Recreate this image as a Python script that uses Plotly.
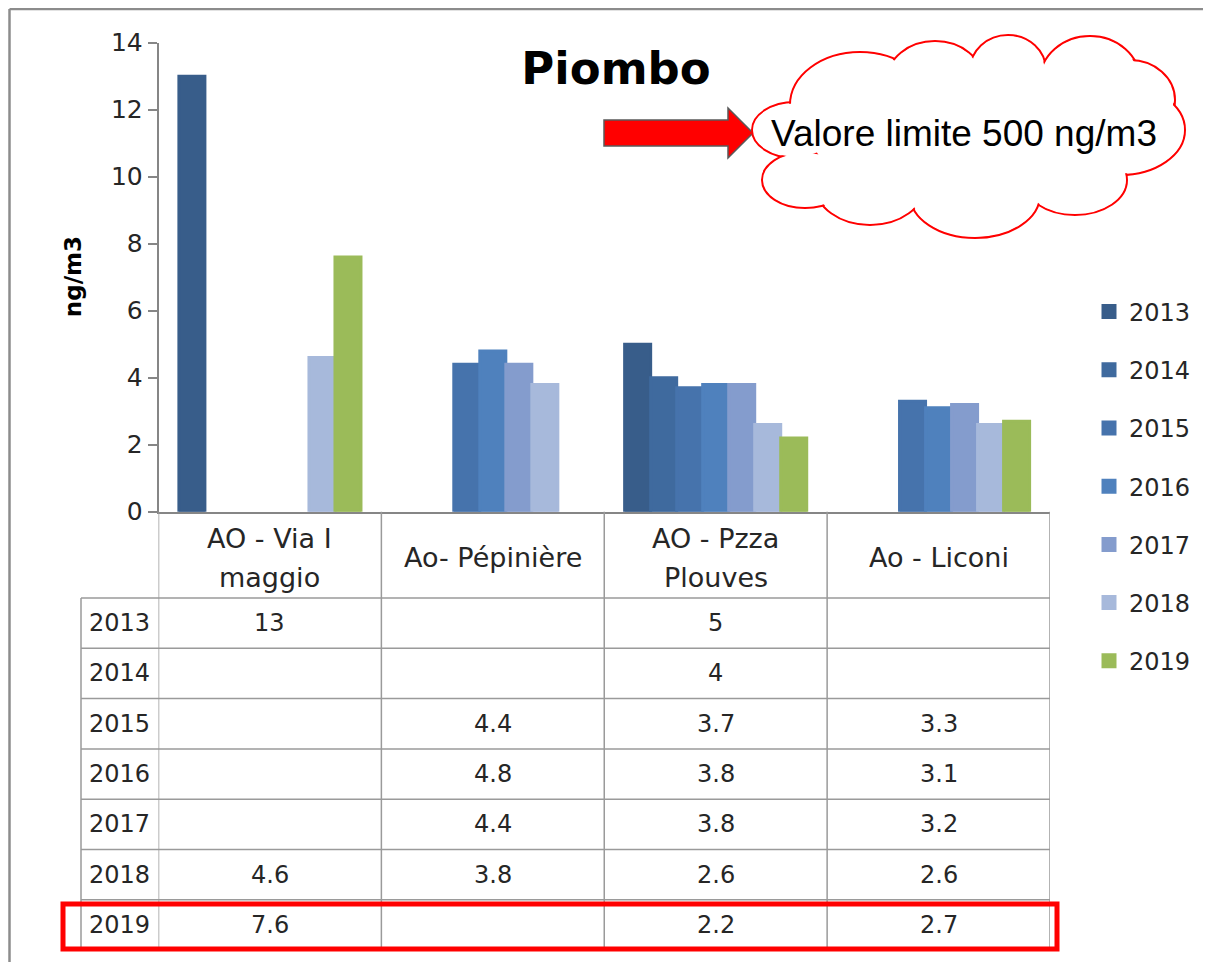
import plotly.graph_objects as go

# data
stations = ['AO - Via I\nmaggio', 'Ao- Pépinière', 'AO - Pzza\nPlouves', 'Ao - Liconi']
years = ['2013', '2014', '2015', '2016', '2017', '2018', '2019']
v2013 = [13, None, 5, None]
v2014 = [None, None, 4, None]
v2015 = [None, 4.4, 3.7, 3.3]
v2016 = [None, 4.8, 3.8, 3.1]
v2017 = [None, 4.4, 3.8, 3.2]
v2018 = [4.6, 3.8, 2.6, 2.6]
v2019 = [7.6, None, 2.2, 2.7]
y_ticks = [0, 2, 4, 6, 8, 10, 12, 14]

series = [v2013, v2014, v2015, v2016, v2017, v2018, v2019]
colors = ['#385D8A', '#3F6A9E', '#4673AC', '#4F81BD', '#849CCD', '#A7B9DB', '#9BBB59']

W, H = 1211, 962
OX, OY = 8, 8          # page body margin, so screen px = figure px + 8
FONT = 'DejaVu Sans'
TXT = '#262626'
GRID = '#9A9A9A'


def fx(px):
    return (px - OX) / W


def fy(py):
    return 1 - (py - OY) / H


# screen-pixel geometry of the layout
plot_l, plot_r, plot_t, plot_b = 158.5, 1050, 42.7, 511.7
header_b = 598
row_h = 50.3
tab_l = 81

fig = go.Figure()
for yr, vals, col in zip(years, series, colors):
    fig.add_trace(go.Bar(x=list(range(len(stations))), y=vals, name=yr,
                         marker=dict(color=col, line=dict(color=col, width=3)),
                         legendgroup=yr))

shapes = []
annotations = []

# table grid
rows_y = [header_b + i * row_h for i in range(len(years) + 1)]
for y in rows_y:
    shapes.append(dict(type='line', xref='x2', yref='y2', x0=tab_l, x1=plot_r, y0=y, y1=y,
                       line=dict(color=GRID, width=1.5)))
shapes.append(dict(type='line', xref='x2', yref='y2', x0=tab_l, x1=tab_l, y0=header_b, y1=rows_y[-1],
                   line=dict(color=GRID, width=1.5)))
for i in range(len(stations) + 1):
    shapes.append(dict(type='line', xref='x', yref='y2', x0=i - 0.5, x1=i - 0.5, y0=plot_b, y1=rows_y[-1],
                       line=dict(color=GRID, width=1.5)))

# header labels
head_c = (plot_b + header_b) / 2 + 3
for i, name in enumerate(stations):
    lines = name.split('\n')
    for k, ln in enumerate(lines):
        y = head_c + (k - (len(lines) - 1) / 2) * 39
        annotations.append(dict(x=i, y=y, xref='x', yref='y2', text=ln, showarrow=False,
                                font=dict(family=FONT, size=27, color=TXT)))

# table body
for r, (yr, vals) in enumerate(zip(years, series)):
    yc = rows_y[r] + row_h / 2
    annotations.append(dict(x=(tab_l + plot_l) / 2, y=yc, xref='x2', yref='y2', text=yr,
                            showarrow=False, font=dict(family=FONT, size=24, color=TXT)))
    for i, v in enumerate(vals):
        if v is None:
            continue
        annotations.append(dict(x=i, y=yc, xref='x', yref='y2', text=f'{v:g}',
                                showarrow=False, font=dict(family=FONT, size=24, color=TXT)))

# red box around the 2019 row
shapes.append(dict(type='rect', xref='x2', yref='y2', x0=63, x1=1057, y0=904, y1=949,
                   line=dict(color='#FF0000', width=5)))

# outer frame
shapes.append(dict(type='line', xref='x2', yref='y2', x0=9.5, x1=W + OX, y0=9, y1=9,
                   line=dict(color='#8C8C8C', width=2.5)))
shapes.append(dict(type='line', xref='x2', yref='y2', x0=9.5, x1=9.5, y0=9, y1=H + OY,
                   line=dict(color='#8C8C8C', width=2.5)))

# red arrow
shapes.append(dict(type='path', xref='x2', yref='y2',
                   path='M604,120 L728,120 L728,108 L753,133 L728,158 L728,146 L604,146 Z',
                   fillcolor='#FF0000', line=dict(color='#595959', width=1.5)))

# cloud callout: union of ellipses
lobes = [(795, 130, 43, 28), (860, 105, 70, 53), (935, 80, 48, 39), (1008, 70, 38, 35),
         (1090, 80, 50, 44), (1130, 100, 45, 40), (1120, 130, 65, 45), (1075, 180, 52, 35),
         (975, 195, 65, 43), (870, 185, 55, 40), (805, 180, 43, 28)]
for cx, cy, rx, ry in lobes:
    shapes.append(dict(type='circle', xref='x2', yref='y2', x0=cx - rx, x1=cx + rx,
                       y0=cy - ry, y1=cy + ry, line=dict(color='#FF0000', width=2),
                       fillcolor='white'))
for cx, cy, rx, ry in lobes + [(970, 135, 160, 70)]:
    shapes.append(dict(type='circle', xref='x2', yref='y2', x0=cx - rx + 1.5, x1=cx + rx - 1.5,
                       y0=cy - ry + 1.5, y1=cy + ry - 1.5, line=dict(width=0),
                       fillcolor='white'))
annotations.append(dict(x=964, y=133, xref='x2', yref='y2', text='Valore limite 500 ng/m3',
                        showarrow=False, font=dict(family='Liberation Sans', size=37, color='black')))

# y axis title
annotations.append(dict(x=73, y=(plot_t + plot_b) / 2, xref='x2', yref='y2', text='<b>ng/m3</b>',
                        textangle=-90, showarrow=False, font=dict(family=FONT, size=23, color='black')))

fig.update_layout(
    width=W, height=H,
    margin=dict(l=0, r=0, t=0, b=0, autoexpand=False),
    paper_bgcolor='white', plot_bgcolor='rgba(0,0,0,0)',
    barmode='group', bargap=0.183, bargroupgap=0,
    title=dict(text='<b>Piombo</b>', x=fx(616), y=fy(68), xanchor='center', yanchor='middle',
               font=dict(family=FONT, size=45, color='black')),
    xaxis=dict(domain=[fx(plot_l), fx(plot_r)], range=[-0.5, len(stations) - 0.5],
               showticklabels=False, ticks='', showgrid=False, zeroline=False, automargin=False,
               showline=True, linecolor='#868686', linewidth=1.5),
    yaxis=dict(domain=[fy(plot_b), fy(plot_t)], range=[0, 14], tickvals=y_ticks,
               showgrid=False, zeroline=False, showline=True, linecolor='#868686', linewidth=1.5,
               ticks='outside', ticklen=9, tickcolor='#868686', tickwidth=1.5, automargin=False,
               tickfont=dict(family=FONT, size=25, color=TXT)),
    xaxis2=dict(domain=[0, 1], range=[OX, W + OX], visible=False, anchor='y2', fixedrange=True),
    yaxis2=dict(domain=[0, 1], range=[H + OY, OY], visible=False, anchor='x2', fixedrange=True),
    legend=dict(x=fx(1089), y=fy(289.5), xanchor='left', yanchor='top',
                traceorder='grouped', tracegroupgap=24,
                font=dict(family=FONT, size=24, color=TXT), bgcolor='rgba(0,0,0,0)'),
    shapes=shapes,
    annotations=annotations,
)

fig.write_html('out.html')
